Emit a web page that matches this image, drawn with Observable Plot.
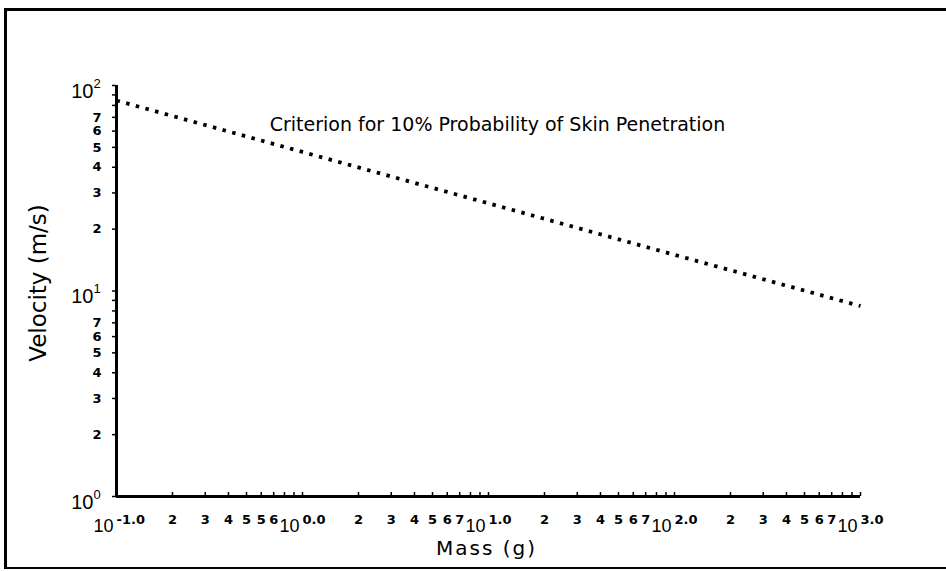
<!DOCTYPE html>
<html><head><meta charset="utf-8">
<script src="https://cdn.jsdelivr.net/npm/d3@7"></script>
<script src="https://cdn.jsdelivr.net/npm/@observablehq/plot@0.6"></script>
<style>
html,body{margin:0;padding:0;background:#fff;overflow:hidden;width:946px;height:571px;}
#wrap{position:relative;width:946px;height:571px;overflow:hidden;}
.edge{position:absolute;background:#000;pointer-events:none;}
#eTop{left:4px;top:8px;width:942px;height:2.5px;}
#eLeft{left:4px;top:8px;width:2.5px;height:561px;}
#eBottom{left:4px;top:566.5px;width:942px;height:2.5px;}
</style></head><body><div id="wrap"><div class="edge" id="eTop"></div><div class="edge" id="eLeft"></div><div class="edge" id="eBottom"></div></div>
<script>
// Data (log-log)
const mass = [0.1, 1, 10, 100, 1000];
const velocity = [84.5, 47.5, 26.7, 15.0, 8.45];
const curveLabel = "Criterion for 10% Probability of Skin Penetration";

// X axis ticks and labels
const xMajor = [0.1, 1, 10, 100, 1000];
const xMajorExp = ["-1.0", "0.0", "1.0", "2.0", "3.0"];
const xMinor = [0.2,0.3,0.4,0.5,0.6,0.7,0.8,0.9, 2,3,4,5,6,7,8,9, 20,30,40,50,60,70,80,90, 200,300,400,500,600,700,800,900];
const xMinorLabelVals = [0.2,0.3,0.4,0.5,0.6,0.7, 2,3,4,5,6,7, 20,30,40,50,60,70, 200,300,400,500,600,700];
const xMinorLabelText = ["2","3","4","5","5","6", "2","3","4","5","6","7", "2","3","4","5","6","7", "2","3","4","5","6","7"];

// Y axis ticks and labels
const yMajor = [1, 10, 100];
const yMajorExp = ["0", "1", "2"];
const yMinor = [2,3,4,5,6,7,8,9, 20,30,40,50,60,70,80,90];
const yMinorLabelVals = [2,3,4,5,6,7, 20,30,40,50,60,70];
const yMinorLabelText = ["2","3","4","5","6","7", "2","3","4","5","6","7"];

const xLabel = "Mass (g)";
const yLabel = "Velocity (m/s)";

const curve = mass.map((m, i) => ({m, v: velocity[i]}));
const xMinorL = xMinorLabelVals.map((x, i) => ({x, t: xMinorLabelText[i]}));
const xMajorL = xMajor.map((x, i) => ({x, e: xMajorExp[i]}));
const yMinorL = yMinorLabelVals.map((y, i) => ({y, t: yMinorLabelText[i]}));
const yMajorL = yMajor.map((y, i) => ({y, e: yMajorExp[i]}));

const DJ = "'DejaVu Sans', sans-serif";
const LS = "'Liberation Sans', Arial, sans-serif";

const chart = Plot.plot({
  width: 946, height: 571,
  marginLeft: 116, marginRight: 86, marginTop: 85, marginBottom: 75,
  x: {type: "log", domain: [0.1, 1000]},
  y: {type: "log", domain: [1, 100]},
  style: {fontFamily: LS, color: "#000", background: "transparent", overflow: "visible"},
  marks: [
    Plot.axisX([...xMinor, ...xMajor], {anchor: "bottom", tickSize: -4, strokeWidth: 1.5, tickFormat: () => "", label: null}),
    Plot.axisY([...yMinor, ...yMajor], {anchor: "left", tickSize: 4, strokeWidth: 1.5, tickFormat: () => "", label: null}),
    Plot.ruleY([1], {strokeWidth: 3}),
    Plot.ruleX([0.1], {strokeWidth: 3}),
    Plot.line(curve, {x: "m", y: "v", stroke: "#000", strokeWidth: 3.8, strokeDasharray: "3.5,6.5", strokeLinecap: "butt"}),
    // x tick labels
    Plot.text(xMinorL, {x: "x", frameAnchor: "bottom", text: "t", dy: 27, fontSize: 13, fontWeight: "bold", fontFamily: DJ}),
    Plot.text(xMajorL, {x: "x", frameAnchor: "bottom", text: () => "10", dy: 35, dx: -3, textAnchor: "end", fontSize: 18}),
    Plot.text(xMajorL, {x: "x", frameAnchor: "bottom", text: "e", dy: 27, dx: 0, textAnchor: "start", fontSize: 13, fontWeight: "bold", fontFamily: DJ}),
    // y tick labels
    Plot.text(yMinorL, {y: "y", frameAnchor: "left", text: "t", dx: -15, textAnchor: "end", fontSize: 13, fontWeight: "bold", fontFamily: DJ}),
    Plot.text(yMajorL, {y: "y", frameAnchor: "left", text: () => "10", dx: -23, dy: 6, textAnchor: "end", fontSize: 20}),
    Plot.text(yMajorL, {y: "y", frameAnchor: "left", text: "e", dx: -23, dy: -2, textAnchor: "start", fontSize: 13}),
    // axis titles
    Plot.text([xLabel], {frameAnchor: "bottom", text: d => d, dy: 58, dx: -2, fontSize: 20, fontFamily: DJ}),
    Plot.text([yLabel], {frameAnchor: "left", textAnchor: "middle", text: d => d, dx: -78, dy: -8, rotate: -90, fontSize: 23, fontFamily: DJ}),
    // annotation
    Plot.text([curveLabel], {frameAnchor: "top", text: d => d, dx: 9, dy: 32, fontSize: 19, fontFamily: DJ})
  ]
});
d3.select(chart).selectAll("text").filter(function () { return this.textContent === xLabel; }).style("letter-spacing", "2px");
document.getElementById("wrap").prepend(chart);
</script>
</body></html>
